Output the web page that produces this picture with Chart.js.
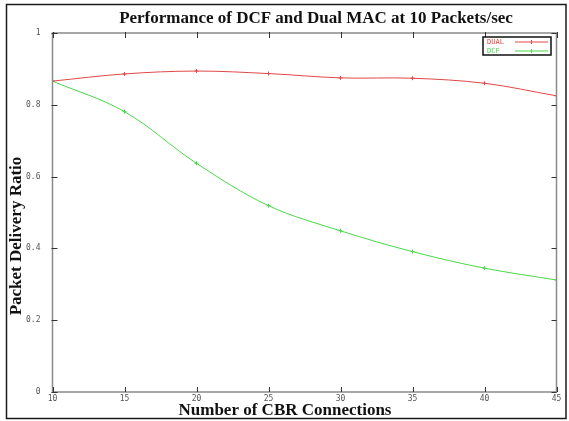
<!DOCTYPE html>
<html>
<head>
<meta charset="utf-8">
<script src="https://cdn.jsdelivr.net/npm/chart.js@4/dist/chart.umd.min.js"></script>
<style>
html,body{margin:0;padding:0;background:#fff;}
canvas{display:block;}
</style>
</head>
<body>
<canvas id="c" width="569" height="421"></canvas>
<script>
const connections = [10, 15, 20, 25, 30, 35, 40, 45];
const dualValues = [0.866, 0.886, 0.894, 0.887, 0.875, 0.874, 0.860, 0.825];
const dcfValues  = [0.866, 0.781, 0.637, 0.519, 0.449, 0.391, 0.345, 0.312];
const seriesLabels = ['DUAL', 'DCF'];
const chartTitle = 'Performance of DCF and Dual MAC at 10 Packets/sec';
const xTitle = 'Number of CBR Connections';
const yTitle = 'Packet Delivery Ratio';
const xTicks = [10, 15, 20, 25, 30, 35, 40, 45];
const yTicks = [0, 0.2, 0.4, 0.6, 0.8, 1];

const RED = '#e04848';
const GREEN = '#48d848';

const decor = {
  id: 'decor',
  afterDraw(chart) {
    const ctx = chart.ctx;
    const a = chart.chartArea;
    const xs = chart.scales.x, ys = chart.scales.y;
    ctx.save();
    // axis frame
    ctx.strokeStyle = '#8a8a8a';
    ctx.lineWidth = 1.5;
    ctx.strokeRect(a.left, a.top, a.right - a.left, a.bottom - a.top);
    // mirror ticks (inward)
    ctx.strokeStyle = '#333';
    ctx.lineWidth = 1;
    ctx.beginPath();
    xTicks.forEach(v => {
      const px = Math.round(xs.getPixelForValue(v)) + 0.5;
      ctx.moveTo(px, a.bottom); ctx.lineTo(px, a.bottom - 5);
      ctx.moveTo(px, a.top - 1); ctx.lineTo(px, a.top + 5);
    });
    yTicks.forEach(v => {
      const py = Math.round(ys.getPixelForValue(v)) + 0.5;
      ctx.moveTo(a.left - 1, py); ctx.lineTo(a.left + 5, py);
      ctx.moveTo(a.right, py); ctx.lineTo(a.right - 5, py);
    });
    ctx.stroke();
    // titles
    ctx.fillStyle = '#111';
    ctx.font = 'bold 17px "Liberation Serif", "DejaVu Serif", serif';
    ctx.textAlign = 'center';
    ctx.textBaseline = 'middle';
    ctx.fillText(chartTitle, 316, 19);
    ctx.fillText(xTitle, 285, 411);
    ctx.save();
    ctx.translate(17, 236);
    ctx.rotate(-Math.PI / 2);
    ctx.fillText(yTitle, 0, 0);
    ctx.restore();
    // legend
    const lx = 483, ly = 37, lw = 68, lh = 18;
    ctx.fillStyle = '#fff';
    ctx.fillRect(lx, ly, lw, lh);
    ctx.strokeStyle = '#111';
    ctx.lineWidth = 1.5;
    ctx.strokeRect(lx, ly, lw, lh);
    ctx.font = '7px "DejaVu Sans Mono", monospace';
    ctx.textAlign = 'left';
    chart.data.datasets.forEach((ds, i) => {
      const yy = ly + 5 + i * 9;
      ctx.fillStyle = ds.borderColor;
      ctx.fillText(ds.label, lx + 4, yy);
      ctx.strokeStyle = ds.borderColor;
      ctx.lineWidth = 1;
      ctx.beginPath();
      ctx.moveTo(lx + 32, yy); ctx.lineTo(lx + 65, yy);
      ctx.moveTo(lx + 48.5, yy - 2); ctx.lineTo(lx + 48.5, yy + 2);
      ctx.stroke();
    });
    // outer frame
    ctx.strokeStyle = '#1a1a1a';
    ctx.lineWidth = 1.5;
    ctx.strokeRect(6.5, 4.5, 559.5, 414);
    ctx.restore();
  }
};

new Chart(document.getElementById('c'), {
  type: 'line',
  data: {
    datasets: [
      {
        label: seriesLabels[0],
        data: connections.map((x, i) => ({x, y: dualValues[i]})),
        borderColor: RED, backgroundColor: RED,
        borderWidth: 1, tension: 0.35,
        pointStyle: 'cross', pointRadius: 2, pointBorderWidth: 1
      },
      {
        label: seriesLabels[1],
        data: connections.map((x, i) => ({x, y: dcfValues[i]})),
        borderColor: GREEN, backgroundColor: GREEN,
        borderWidth: 1, tension: 0.35,
        pointStyle: 'cross', pointRadius: 2, pointBorderWidth: 1
      }
    ]
  },
  options: {
    responsive: false,
    animation: false,
    layout: { padding: { top: 33, right: 12.5, left: 0, bottom: 0 } },
    plugins: { legend: { display: false }, title: { display: false }, tooltip: { enabled: false } },
    scales: {
      x: {
        type: 'linear', min: 10, max: 45,
        afterFit(s) { s.height = 29; },
        afterBuildTicks(s) { s.ticks = xTicks.map(v => ({value: v})); },
        grid: { display: false, drawTicks: false },
        border: { display: false },
        ticks: { padding: 2, color: '#555', font: { size: 8, family: '"DejaVu Sans Mono", monospace' }, maxRotation: 0 }
      },
      y: {
        type: 'linear', min: 0, max: 1,
        afterFit(s) { s.width = 52.5; },
        afterBuildTicks(s) { s.ticks = yTicks.map(v => ({value: v})); },
        grid: { display: false, drawTicks: false },
        border: { display: false },
        ticks: { padding: 12, color: '#555', font: { size: 8, family: '"DejaVu Sans Mono", monospace' },
                 callback: v => v === 0 ? '0' : (v === 1 ? '1' : v.toFixed(1)) }
      }
    }
  },
  plugins: [decor]
});
</script>
</body>
</html>
